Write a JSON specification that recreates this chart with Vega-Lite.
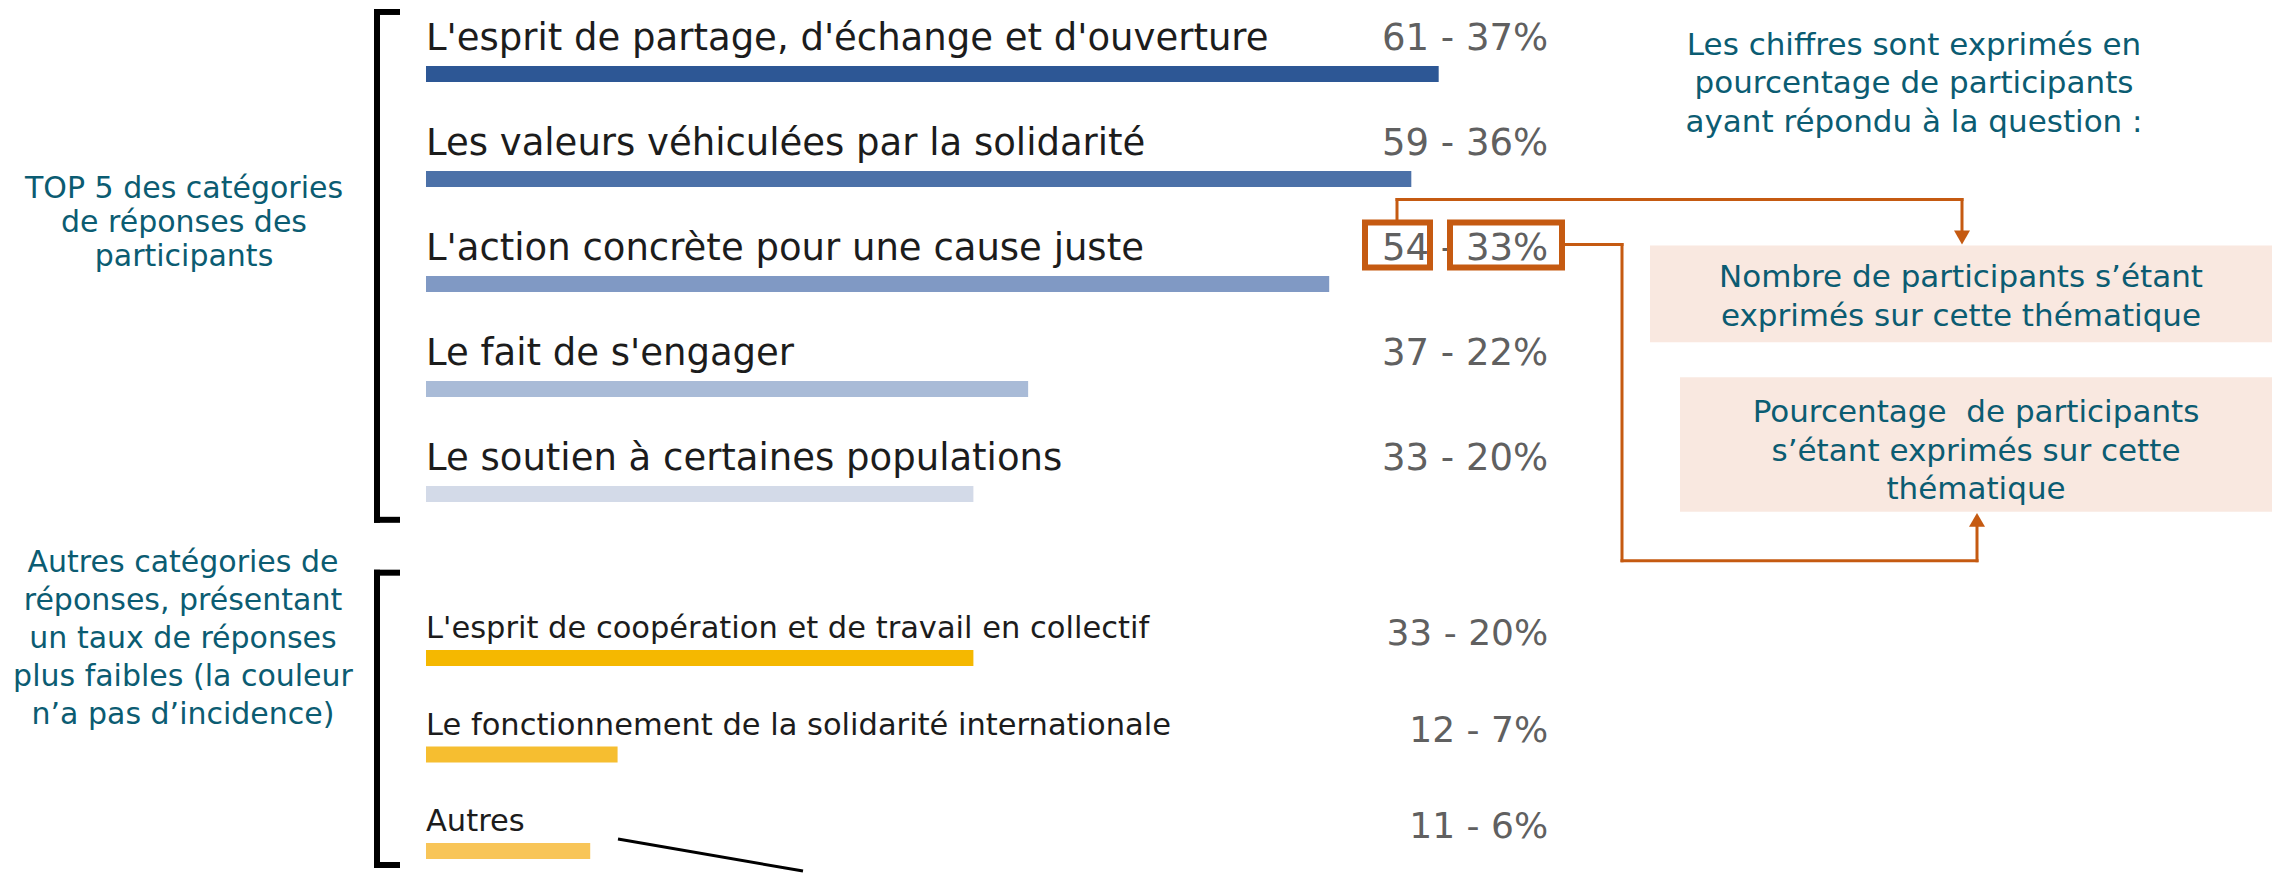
{
  "$schema": "https://vega.github.io/schema/vega-lite/v6.json",
  "width": 2290,
  "height": 873,
  "autosize": {"type": "fit", "contains": "padding"},
  "padding": 0,
  "background": "#ffffff",
  "config": {"view": {"stroke": null}},
  "datasets": {
    "responses": [
      {"categorie": "L'esprit de partage, d'échange et d'ouverture", "groupe": "TOP 5", "participants": 61, "pct": 37, "libelle": "61 - 37%"},
      {"categorie": "Les valeurs véhiculées par la solidarité", "groupe": "TOP 5", "participants": 59, "pct": 36, "libelle": "59 - 36%"},
      {"categorie": "L'action concrète pour une cause juste", "groupe": "TOP 5", "participants": 54, "pct": 33, "libelle": "54 - 33%"},
      {"categorie": "Le fait de s'engager", "groupe": "TOP 5", "participants": 37, "pct": 22, "libelle": "37 - 22%"},
      {"categorie": "Le soutien à certaines populations", "groupe": "TOP 5", "participants": 33, "pct": 20, "libelle": "33 - 20%"},
      {"categorie": "L'esprit de coopération et de travail en collectif", "groupe": "Autres", "participants": 33, "pct": 20, "libelle": "33 - 20%"},
      {"categorie": "Le fonctionnement de la solidarité internationale", "groupe": "Autres", "participants": 12, "pct": 7, "libelle": "12 - 7%"},
      {"categorie": "Autres", "groupe": "Autres", "participants": 11, "pct": 6, "libelle": "11 - 6%"}
    ],
    "pinkBoxes": [
      {"x": 1650, "x2": 2272, "y": 246, "y2": 343},
      {"x": 1680, "x2": 2272, "y": 378, "y2": 513}
    ],
    "orangeBoxes": [
      {"x": 1365, "x2": 1430, "y": 223, "y2": 268},
      {"x": 1450, "x2": 1562, "y": 223, "y2": 268}
    ],
    "orangeLines": [
      {"x": 1397, "y": 200, "x2": 1397, "y2": 221},
      {"x": 1397, "y": 200, "x2": 1962, "y2": 200},
      {"x": 1962, "y": 200, "x2": 1962, "y2": 232},
      {"x": 1565, "y": 245, "x2": 1622, "y2": 245},
      {"x": 1622, "y": 245, "x2": 1622, "y2": 562},
      {"x": 1622, "y": 562, "x2": 1977, "y2": 562},
      {"x": 1977, "y": 562, "x2": 1977, "y2": 528}
    ],
    "arrows": [
      {"x": 1962, "y": 238, "dir": "down"},
      {"x": 1977, "y": 521, "dir": "up"}
    ],
    "brackets": [
      {"x": 377, "y": 12, "x2": 397, "y2": 12},
      {"x": 377, "y": 12, "x2": 377, "y2": 521},
      {"x": 377, "y": 521, "x2": 397, "y2": 521},
      {"x": 377, "y": 574, "x2": 397, "y2": 574},
      {"x": 377, "y": 574, "x2": 377, "y2": 867},
      {"x": 377, "y": 867, "x2": 397, "y2": 867}
    ],
    "diagonal": [
      {"x": 618, "y": 841, "x2": 803, "y2": 873}
    ],
    "leftTop": [
      {"x": 184, "y": 198, "t": ["TOP 5 des catégories", "de réponses des", "participants"]}
    ],
    "leftBottom": [
      {"x": 183, "y": 573, "t": ["Autres catégories de", "réponses, présentant", "un taux de réponses", "plus faibles (la couleur", "n’a pas d’incidence)"]}
    ],
    "rightNotes": [
      {"x": 1914, "y": 55, "t": ["Les chiffres sont exprimés en", "pourcentage de participants", "ayant répondu à la question :"]},
      {"x": 1961, "y": 288, "t": ["Nombre de participants s’étant", "exprimés sur cette thématique"]},
      {"x": 1976, "y": 423, "t": ["Pourcentage \u00a0de participants", "s’étant exprimés sur cette", "thématique"]}
    ]
  },
  "resolve": {"scale": {"x": "independent", "y": "independent"}},
  "layer": [
    {
      "data": {"name": "responses"},
      "resolve": {"scale": {"y": "independent"}},
      "encoding": {
        "x": {"field": "pct", "type": "quantitative", "scale": {"domain": [-15.5645, 68.104], "nice": false}, "axis": null},
        "color": {
          "field": "categorie",
          "type": "nominal",
          "scale": {
            "domain": [
              "L'esprit de partage, d'échange et d'ouverture",
              "Les valeurs véhiculées par la solidarité",
              "L'action concrète pour une cause juste",
              "Le fait de s'engager",
              "Le soutien à certaines populations",
              "L'esprit de coopération et de travail en collectif",
              "Le fonctionnement de la solidarité internationale",
              "Autres"
            ],
            "range": ["#2d5795", "#4c71a8", "#8099c4", "#a9bbd7", "#d3dae8", "#f5b800", "#f6be30", "#f8c558"]
          },
          "legend": null
        }
      },
      "layer": [
        {
          "transform": [{"filter": "datum.groupe === 'TOP 5'"}],
          "encoding": {
            "y": {"field": "categorie", "type": "nominal", "sort": null, "scale": {"type": "point", "range": [74, 494], "padding": 0}, "axis": null}
          },
          "layer": [
            {"mark": {"type": "bar", "size": 16}},
            {
              "mark": {"type": "text", "align": "left", "baseline": "alphabetic", "dy": -24, "font": "DejaVu Sans", "fontSize": 37},
              "encoding": {"x": {"datum": 0}, "text": {"field": "categorie"}, "color": {"value": "#1c1c1c"}}
            },
            {
              "mark": {"type": "text", "align": "right", "baseline": "alphabetic", "dy": -24, "font": "DejaVu Sans", "fontSize": 37},
              "encoding": {"x": {"datum": 41}, "text": {"field": "libelle"}, "color": {"value": "#606060"}}
            }
          ]
        },
        {
          "transform": [{"filter": "datum.groupe === 'Autres'"}],
          "encoding": {
            "y": {"field": "categorie", "type": "nominal", "sort": null, "scale": {"type": "point", "range": [658, 851], "padding": 0}, "axis": null}
          },
          "layer": [
            {"mark": {"type": "bar", "size": 16}},
            {
              "mark": {"type": "text", "align": "left", "baseline": "alphabetic", "dy": -20, "font": "DejaVu Sans", "fontSize": 30.5},
              "encoding": {"x": {"datum": 0}, "text": {"field": "categorie"}, "color": {"value": "#1c1c1c"}}
            },
            {
              "mark": {"type": "text", "align": "right", "baseline": "alphabetic", "dy": -13, "font": "DejaVu Sans", "fontSize": 36},
              "encoding": {"x": {"datum": 41}, "text": {"field": "libelle"}, "color": {"value": "#606060"}}
            }
          ]
        }
      ]
    },
    {
      "encoding": {
        "x": {"field": "x", "type": "quantitative", "scale": {"domain": [0, 2290], "nice": false, "zero": false}, "axis": null},
        "y": {"field": "y", "type": "quantitative", "scale": {"domain": [0, 873], "nice": false, "zero": false, "reverse": true}, "axis": null}
      },
      "layer": [
        {
          "data": {"name": "pinkBoxes"},
          "mark": {"type": "rect", "color": "#f9e8e0"},
          "encoding": {"x2": {"field": "x2"}, "y2": {"field": "y2"}}
        },
        {
          "data": {"name": "orangeLines"},
          "mark": {"type": "rule", "color": "#c55a11", "strokeWidth": 3, "strokeCap": "square"},
          "encoding": {"x2": {"field": "x2"}, "y2": {"field": "y2"}}
        },
        {
          "data": {"name": "arrows"},
          "mark": {"type": "point", "filled": true, "color": "#c55a11", "size": 256, "opacity": 1},
          "encoding": {
            "shape": {"field": "dir", "type": "nominal", "scale": {"domain": ["down", "up"], "range": ["triangle-down", "triangle-up"]}, "legend": null}
          }
        },
        {
          "data": {"name": "orangeBoxes"},
          "mark": {"type": "rect", "fillOpacity": 0, "stroke": "#c55a11", "strokeWidth": 6},
          "encoding": {"x2": {"field": "x2"}, "y2": {"field": "y2"}}
        },
        {
          "data": {"name": "brackets"},
          "mark": {"type": "rule", "color": "#000000", "strokeWidth": 6, "strokeCap": "square"},
          "encoding": {"x2": {"field": "x2"}, "y2": {"field": "y2"}}
        },
        {
          "data": {"name": "diagonal"},
          "mark": {"type": "rule", "color": "#000000", "strokeWidth": 3},
          "encoding": {"x2": {"field": "x2"}, "y2": {"field": "y2"}}
        },
        {
          "data": {"name": "leftTop"},
          "mark": {"type": "text", "align": "center", "baseline": "alphabetic", "font": "DejaVu Sans", "fontSize": 30, "lineHeight": 34, "color": "#0b5c72"},
          "encoding": {"text": {"field": "t"}}
        },
        {
          "data": {"name": "leftBottom"},
          "mark": {"type": "text", "align": "center", "baseline": "alphabetic", "font": "DejaVu Sans", "fontSize": 30, "lineHeight": 38, "color": "#0b5c72"},
          "encoding": {"text": {"field": "t"}}
        },
        {
          "data": {"name": "rightNotes"},
          "mark": {"type": "text", "align": "center", "baseline": "alphabetic", "font": "DejaVu Sans", "fontSize": 31, "lineHeight": 38.5, "color": "#0b5c72"},
          "encoding": {"text": {"field": "t"}}
        }
      ]
    }
  ]
}
